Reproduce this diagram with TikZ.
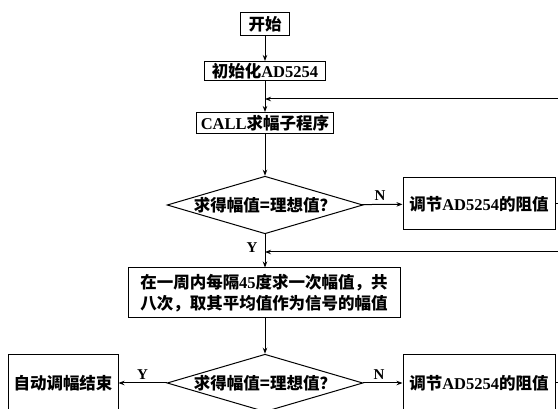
\documentclass[tikz,border=0pt]{standalone}
\usepackage{fontspec}
\setmainfont{Liberation Serif}
\newfontfamily\cjk{Noto Sans CJK SC}
\usetikzlibrary{shapes.geometric,arrows.meta}
\newcommand{\zh}[1]{{\cjk #1}}
\tikzset{
  box/.style={draw, line width=1pt, inner sep=0pt, font=\fontsize{16.5}{21}\selectfont\bfseries, align=center},
  dec/.style={draw, diamond, aspect=3.4, line width=1pt, inner sep=0pt, font=\fontsize{16.5}{21}\selectfont\bfseries},
  lbl/.style={font=\fontsize{15}{17}\selectfont\bfseries, inner sep=0pt},
  conn/.style={line width=1pt, -{Stealth[length=6pt,width=4.5pt]}},
  plain/.style={line width=1pt}
}
\begin{document}
\begin{tikzpicture}[x=1pt,y=-1pt]
\useasboundingbox (0,0) rectangle (558,409);
\clip (0,0) rectangle (558,409);
\node[box, minimum width=49pt, minimum height=23pt] (start) at (265,24.5) {\zh{开始}};
\node[box, minimum width=121pt, minimum height=19pt] (init) at (265,71) {\zh{初始化}AD5254};
\node[box, minimum width=137pt, minimum height=21pt] (call) at (265,123) {CALL\zh{求幅子程序}};
\node[dec, minimum width=192pt, minimum height=56pt] (d1) at (265,205) {\zh{求得幅值=理想值？}};
\node[box, minimum width=152pt, minimum height=52pt] (rb1) at (479,204) {\zh{调节}AD5254\zh{的阻值}};
\node[box, minimum width=272pt, minimum height=50pt] (big) at (264,293) {\zh{在一周内每隔}45\zh{度求一次幅值，共}\\\zh{八次，取其平均值作为信号的幅值}};
\node[dec, minimum width=188pt, minimum height=56pt] (d2) at (265,383) {\zh{求得幅值=理想值？}};
\node[box, minimum width=110pt, minimum height=56pt] (endb) at (63,383) {\zh{自动调幅结束}};
\node[box, minimum width=152pt, minimum height=56pt] (rb2) at (479,383) {\zh{调节}AD5254\zh{的阻值}};
\coordinate (fb1) at (562,99);
\coordinate (fb2) at (562,252);
\coordinate (j1) at (265,99);
\coordinate (j2) at (265,252);
\coordinate (s1) at (562,204);
\coordinate (s2) at (562,383);
\draw[conn] (start) -- (init);
\draw[conn] (init) -- (call);
\draw[conn] (fb1) -- (j1);
\draw[conn] (call) -- (d1);
\draw[conn] (d1) -- node[lbl, above=3pt, pos=0.45] (n1) {N} (rb1);
\draw[conn] (d1.south) -- node[lbl, left=7pt, pos=0.4] (y1) {Y} (big.north -| d1.south);
\draw[conn] (fb2) -- (j2);
\draw[conn] (big.south -| d2.north) -- (d2.north);
\draw[conn] (d2) -- node[lbl, above=3pt] (y2) {Y} (endb);
\draw[conn] (d2) -- node[lbl, above=3pt, pos=0.4] (n2) {N} (rb2);
\draw[plain] (rb1.east) -- (s1);
\draw[plain] (rb2.east) -- (s2);
\end{tikzpicture}
\end{document}
